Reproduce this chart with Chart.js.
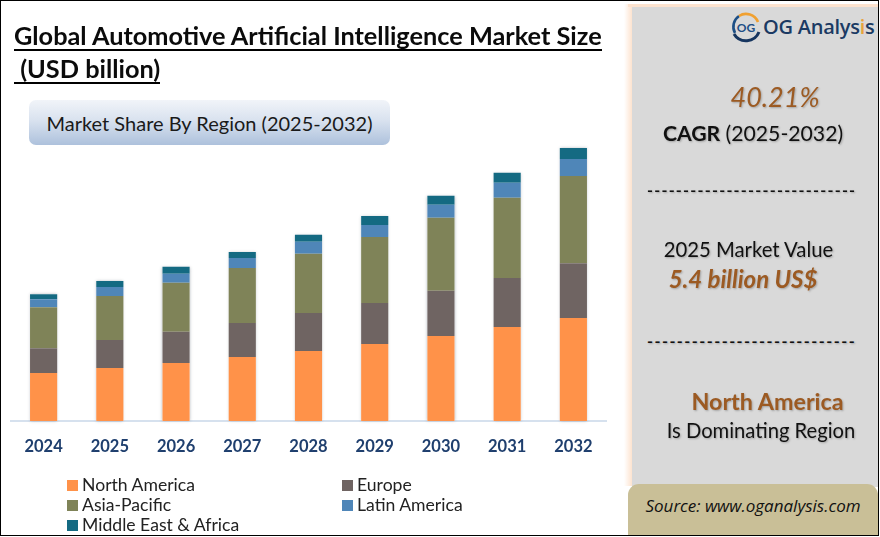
<!DOCTYPE html>
<html><head><meta charset="utf-8">
<script src="https://cdn.jsdelivr.net/npm/chart.js@4"></script>
<style>
html,body{margin:0;padding:0;background:#fff}
#page{position:relative;width:880px;height:537px;overflow:hidden;background:#fff;font-family:Lato,sans-serif;color:#111}
#page div{position:absolute;white-space:nowrap}
#frame{left:0;top:0;width:877px;height:534px;border:1.5px solid #000;z-index:9;pointer-events:none}
#title1,#title2{left:14px;font-weight:700;font-size:25.3px;line-height:30px;color:#0b0b0b}
#title1{top:20px;border-bottom:2px solid #000;width:588px;height:29px}
#title2{top:53px;border-bottom:2px solid #000;width:146px;height:29px}
#badge{left:29px;top:100px;width:361px;height:45px;border-radius:7px;background:linear-gradient(#f1f4f9,#d9e2ef 45%,#adc1dc);text-align:center;line-height:47px;font-size:20px;color:#1a1a1a}
#glow{left:624px;top:4px;width:8px;height:482px;background:linear-gradient(90deg,#fff,#fde3cf)}
#panel{left:632px;top:7px;width:246px;height:480px;background:#d9d9d9}
#topline{left:628px;top:4px;width:250px;height:3px;background:#fde3cf}
#src{left:628px;top:484px;width:250px;height:52px;background:#c9bf97;border-radius:11px 11px 0 0;text-align:center;line-height:43px;font-style:italic;font-size:17px;font-family:"Open Sans",sans-serif}
.c{width:246px;text-align:center;text-shadow:1px 1px 2px rgba(0,0,0,.25)}
.br{color:#9c5a22;font-weight:700;font-style:italic}
.dash{font-size:16px;left:647px;font-weight:700;color:#111;text-shadow:1px 1px 2px rgba(0,0,0,.25)}
canvas{position:absolute;left:0;top:0}
#legend .li{font-size:17.6px;line-height:20px;color:#222}
#legend .sw{width:11px;height:11px}
</style></head><body>
<div id="page">
<canvas id="chart" width="880" height="537"></canvas>
<div id="title1">Global Automotive Artificial Intelligence Market Size</div>
<div id="title2">&nbsp;(USD billion)</div>
<div id="badge">Market Share By Region (2025-2032)</div>
<div id="glow"></div><div id="topline"></div><div id="panel"></div>
<svg style="position:absolute;left:730px;top:11px" width="32" height="32" viewBox="0 0 32 32">
<path d="M5 22A13 13 0 0 1 9 5" fill="none" stroke="#1d4f86" stroke-width="2.6"/>
<path d="M9 5A13 13 0 0 1 28 11" fill="none" stroke="#f0a030" stroke-width="2.6"/>
<path d="M4 23A14 14 0 0 0 29 21" fill="none" stroke="#16355f" stroke-width="3"/>
<text x="16" y="21" font-family="Lato" font-weight="700" font-size="12" text-anchor="middle" fill="#1d4f86">OG</text>
</svg>
<div id="logo" style="left:763px;top:12px;font-size:20px;font-weight:600;line-height:30px;color:#1b3a63;font-family:'Open Sans',sans-serif;letter-spacing:-.25px">OG Analys<span style="color:#e8a33a">i</span>s</div>
<div class="c br" style="left:652px;top:80px;font-size:27px;line-height:34px;font-weight:400">40.21%</div>
<div class="c" style="top:119px;font-size:21.2px;line-height:28px;left:630px"><b>CAGR</b> (2025-2032)</div>
<div class="dash" style="top:180px;letter-spacing:1.25px">-----------------------------</div>
<div class="dash" style="top:331px;letter-spacing:1.5px">----------------------------</div>
<div class="c" style="top:236px;font-size:20.3px;line-height:26px;left:625.5px">2025 Market Value</div>
<div class="c br" style="top:264px;font-size:24px;line-height:30px;left:620px">5.4 billion US$</div>
<div class="c br" style="top:387px;font-size:23.3px;line-height:28px;font-style:normal;left:644.5px">North America</div>
<div class="c" style="top:417px;font-size:20.2px;line-height:26px;left:638px">Is Dominating Region</div>
<div id="src">Source: www.oganalysis.com</div>
<div id="legend"></div>
<div id="frame"></div>
</div>
<script>
const categories=["2024","2025","2026","2027","2028","2029","2030","2031","2032"];
const northAmerica=[1.85,2.04,2.24,2.47,2.70,2.97,3.28,3.63,3.97];
const europe=[0.96,1.08,1.20,1.31,1.47,1.58,1.74,1.89,2.12];
const asiaPacific=[1.58,1.70,1.89,2.12,2.28,2.55,2.82,3.09,3.36];
const latinAmerica=[0.31,0.35,0.35,0.39,0.46,0.46,0.50,0.58,0.66];
const middleEastAfrica=[0.19,0.23,0.27,0.23,0.27,0.35,0.35,0.39,0.42];
const seriesNames=["North America","Europe","Asia-Pacific","Latin America","Middle East & Africa"];
const seriesColors=["#ff9249","#6f6462","#7f8358","#4f86b8","#146a82"];
const seriesValues=[northAmerica,europe,asiaPacific,latinAmerica,middleEastAfrica];
const yMax=16.24;
const legendSpots=[[66,478],[341,478],[66,498],[341,498],[66,518]];

const barShadow={id:'barShadow',
 beforeDatasetsDraw(c){const x=c.ctx;x.save();x.shadowColor='rgba(60,70,90,.35)';x.shadowBlur=3;x.fillStyle='#fff';
  c.getDatasetMeta(0).data.forEach((b,i)=>{const top=c.getDatasetMeta(4).data[i].y;x.fillRect(b.x-b.width/2,top,b.width,b.base-top);});x.restore();}};

new Chart(document.getElementById('chart'),{
 type:'bar',
 data:{labels:categories,datasets:seriesNames.map((n,i)=>({label:n,data:seriesValues[i],
   backgroundColor:seriesColors[i],borderWidth:0,barPercentage:0.41,categoryPercentage:1}))},
 plugins:[barShadow],
 options:{responsive:false,animation:false,
  layout:{padding:{left:10.5,right:273.5,top:0,bottom:0}},
  plugins:{legend:{display:false},tooltip:{enabled:false},title:{display:false}},
  scales:{
   x:{stacked:true,grid:{display:false},border:{color:'#d6e1ee',width:2},
      afterFit(s){s.height=116;},
      ticks:{color:'#1f3f6e',font:{family:'Lato',weight:'700',size:16.5},padding:8,maxRotation:0}},
   y:{stacked:true,display:false,min:0,max:yMax}
  }}
});
const lg=document.getElementById('legend');
seriesNames.forEach((n,i)=>{
 const [x,y]=legendSpots[i];
 lg.insertAdjacentHTML('beforeend',`<div class="sw" style="left:${x+1}px;top:${y+2}px;background:${seriesColors[i]}"></div><div class="li" style="left:${x+16}px;top:${y-3}px">${n.replace('&','&amp;')}</div>`);
});
</script>
</body></html>
